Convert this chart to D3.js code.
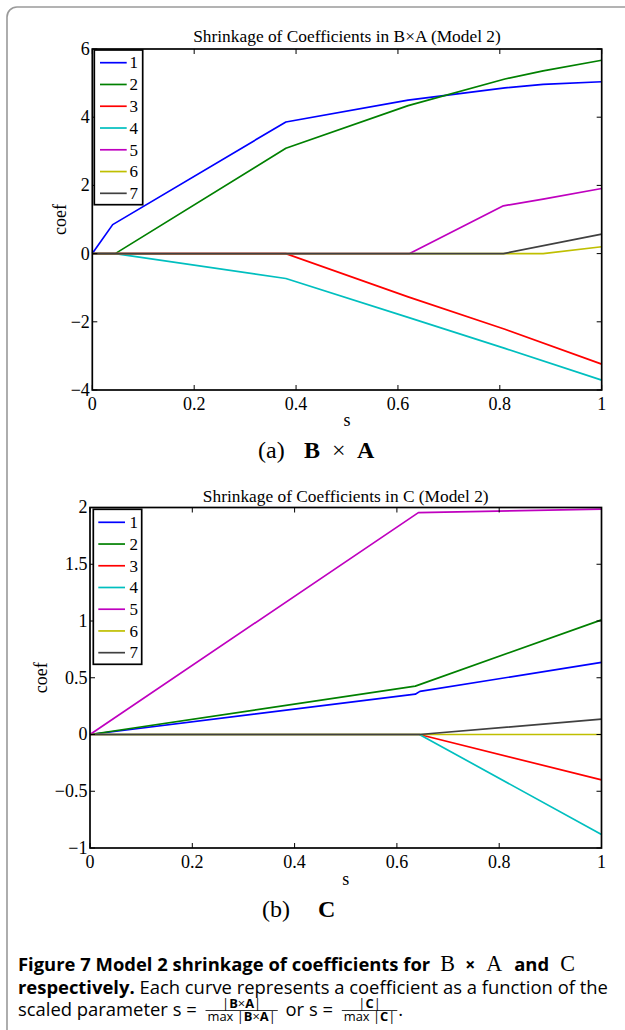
<!DOCTYPE html>
<html><head><meta charset="utf-8">
<script src="https://cdn.jsdelivr.net/npm/d3@7"></script>
<style>body{margin:0;background:#fff} svg{display:block} text{white-space:pre}</style>
</head><body><svg id="c" width="625" height="1030"></svg>
<script>
// ---------- data ----------
const seriesNames = ["1","2","3","4","5","6","7"];
const lineColors = ["#0000ff","#008000","#ff0000","#00bfbf","#bf00bf","#bfbf00","#404040"];
const xTicks = [0, 0.2, 0.4, 0.6, 0.8, 1];
const xTickLabels = ["0","0.2","0.4","0.6","0.8","1"];
const topYTicks = [6, 4, 2, 0, -2, -4];
const topYTickLabels = ["6","4","2","0","\u22122","\u22124"];
const botYTicks = [2, 1.5, 1, 0.5, 0, -0.5, -1];
const botYTickLabels = ["2","1.5","1","0.5","0","\u22120.5","\u22121"];

// Top chart (B x A): s positions and coefficient values per series
const topS1 = [0, 0.04, 0.38, 0.62, 0.81, 0.885, 1];
const topV1 = [0, 0.85, 3.86, 4.50, 4.86, 4.96, 5.04];
const topS2 = [0, 0.045, 0.38, 0.62, 0.81, 0.885, 1];
const topV2 = [0, 0, 3.09, 4.34, 5.12, 5.36, 5.67];
const topS3 = [0, 0.38, 0.62, 0.81, 1];
const topV3 = [0, 0, -1.27, -2.22, -3.24];
const topS4 = [0, 0.045, 0.38, 0.62, 0.81, 1];
const topV4 = [0, 0, -0.73, -1.87, -2.78, -3.71];
const topS5 = [0, 0.623, 0.807, 0.885, 1];
const topV5 = [0, 0, 1.40, 1.60, 1.91];
const topS6 = [0, 0.885, 1];
const topV6 = [0, 0, 0.20];
const topS7 = [0, 0.807, 1];
const topV7 = [0, 0, 0.57];

// Bottom chart (C)
const botS1 = [0, 0.636, 0.645, 1];
const botV1 = [0, 0.355, 0.38, 0.635];
const botS2 = [0, 0.636, 1];
const botV2 = [0, 0.426, 1.01];
const botS3 = [0, 0.644, 1];
const botV3 = [0, 0, -0.40];
const botS4 = [0, 0.644, 1];
const botV4 = [0, 0, -0.88];
const botS5 = [0, 0.642, 1];
const botV5 = [0, 1.955, 1.985];
const botS6 = [0, 1];
const botV6 = [0, 0];
const botS7 = [0, 0.644, 1];
const botV7 = [0, 0, 0.135];

const topSeries = [[topS1,topV1],[topS2,topV2],[topS3,topV3],[topS4,topV4],[topS5,topV5],[topS6,topV6],[topS7,topV7]];
const botSeries = [[botS1,botV1],[botS2,botV2],[botS3,botV3],[botS4,botV4],[botS5,botV5],[botS6,botV6],[botS7,botV7]];

// ---------- drawing ----------
const svg = d3.select("#c");
const SERIF = "'Liberation Serif','Times New Roman',serif";
const SANS = "'Open Sans','Noto Sans',sans-serif";
const TF = 18; // tick / label font size

svg.append("rect").attr("x",7).attr("y",7).attr("width",660).attr("height",1080).attr("rx",10)
  .attr("fill","none").attr("stroke","#9a9a9a").attr("stroke-width",1.6);

function chart(o){
  const g = svg.append("g");
  const x = d3.scaleLinear().domain([0,1]).range([o.left,o.right]);
  const y = d3.scaleLinear().domain(o.yDomain).range([o.bottom,o.top]);
  const tt = g.append("text").attr("x",(o.left+o.right)/2).attr("y",o.titleY)
    .attr("text-anchor","middle").style("font-family",SERIF).style("font-size","15px").text(o.title);
  const w = tt.node().getComputedTextLength();
  tt.style("font-size",(15*o.titleW/w)+"px");
  const line = d3.line().x(d=>x(d[0])).y(d=>y(d[1]));
  o.series.forEach((s,i)=>{
    const pts = s[0].map((v,j)=>[v,s[1][j]]);
    g.append("path").attr("d",line(pts)).attr("fill","none")
      .attr("stroke",lineColors[i]).attr("stroke-width",1.7).attr("stroke-linejoin","round");
  });
  g.append("rect").attr("x",o.left).attr("y",o.top).attr("width",o.right-o.left).attr("height",o.bottom-o.top)
    .attr("fill","none").attr("stroke","#000").attr("stroke-width",1.7);
  const tl = 5;
  g.selectAll(".xt").data(xTicks).join("path").attr("fill","none").attr("stroke","#000").attr("stroke-width",1)
    .attr("d",d=>`M${x(d)},${o.bottom}V${o.bottom-tl}M${x(d)},${o.top}V${o.top+tl}`);
  g.selectAll(".xl").data(xTicks).join("text").attr("x",d=>x(d)).attr("y",o.bottom+19.5)
    .attr("text-anchor","middle").style("font-family",SERIF).style("font-size",TF+"px")
    .text((d,i)=>xTickLabels[i]);
  g.selectAll(".yt").data(o.yTicks).join("path").attr("fill","none").attr("stroke","#000").attr("stroke-width",1)
    .attr("d",d=>`M${o.left},${y(d)}H${o.left+tl}M${o.right},${y(d)}H${o.right-tl}`);
  g.selectAll(".yl").data(o.yTicks).join("text").attr("x",o.left-2.5).attr("y",d=>y(d)).attr("dy","0.33em")
    .attr("text-anchor","end").style("font-family",SERIF).style("font-size",TF+"px")
    .text((d,i)=>o.yLabels[i]);
  g.append("text").attr("transform",`translate(${o.coefX},${(o.top+o.bottom)/2}) rotate(-90)`)
    .attr("text-anchor","middle").style("font-family",SERIF).style("font-size",TF+"px").text("coef");
  g.append("text").attr("x",(o.left+o.right)/2).attr("y",o.sY).attr("text-anchor","middle")
    .style("font-family",SERIF).style("font-size",TF+"px").text("s");
  const L = o.legend;
  g.append("rect").attr("x",L.x0).attr("y",L.y0).attr("width",L.x1-L.x0).attr("height",L.y1-L.y0)
    .attr("fill","#fff").attr("stroke","#000").attr("stroke-width",1.7);
  seriesNames.forEach((n,i)=>{
    const yy = L.first + i*L.step;
    g.append("line").attr("x1",L.lx0).attr("x2",L.lx1).attr("y1",yy).attr("y2",yy)
      .attr("stroke",lineColors[i]).attr("stroke-width",1.7);
    g.append("text").attr("x",L.tx).attr("y",yy).attr("dy","0.34em")
      .style("font-family",SERIF).style("font-size","17px").text(n);
  });
}

chart({left:92.3,right:601.7,top:49,bottom:390,yDomain:[-4,6],yTicks:topYTicks,yLabels:topYTickLabels,
  series:topSeries,title:"Shrinkage of Coefficients in B\u00d7A (Model 2)",titleY:42,titleW:308,
  coefX:66,sY:426,
  legend:{x0:94.3,y0:50,x1:142.7,y1:204.7,first:62.7,step:21.77,lx0:100,lx1:126.7,tx:129.5}});
chart({left:90,right:601.5,top:507.5,bottom:848,yDomain:[-1,2],yTicks:botYTicks,yLabels:botYTickLabels,
  series:botSeries,title:"Shrinkage of Coefficients in C (Model 2)",titleY:501.7,titleW:286,
  coefX:47,sY:885,
  legend:{x0:93.3,y0:509.3,x1:141.7,y1:664.3,first:522.3,step:21.73,lx0:98.3,lx1:125,tx:129.5}});

function put(x, y, t, f, s, w){
  return svg.append("text").attr("x",x).attr("y",y).style("font-family",f).style("font-size",s+"px")
    .style("font-weight",w||"normal").text(t);
}
function run(x, y, pieces){
  pieces.forEach(p=>{
    const t = put(x,y,p.t,p.f,p.s,p.w);
    x += t.node().getComputedTextLength();
  });
  return x;
}
// sub captions
put(258, 458, "(a)", SERIF, 24);
put(304, 458, "B", SERIF, 24, "bold");
put(332, 458, "\u00d7", SERIF, 24);
put(357, 458, "A", SERIF, 24, "bold");
put(262, 917, "(b)", SERIF, 24);
put(318, 917, "C", SERIF, 24, "bold");

// caption
const probe = svg.append("text").style("font-family",SANS).style("font-size","16px");
probe.append("tspan").style("font-weight","bold").text("respectively.");
probe.append("tspan").text(" Each curve represents a coefficient as a function of the");
const pw = probe.node().getComputedTextLength();
probe.remove();
const cs = 16*590/pw;

const l1 = put(18, 971, "Figure 7 Model 2 shrinkage of coefficients for", SANS, cs, "bold");
const e1 = 18 + l1.node().getComputedTextLength();
put(e1+10, 971, "B", SERIF, cs*1.2);
put(e1+35, 971, "\u00d7", SANS, cs*0.95, "bold");
put(e1+56, 971, "A", SERIF, cs*1.2);
put(e1+84, 971, "and", SANS, cs, "bold");
put(e1+130, 971, "C", SERIF, cs*1.2);

run(18, 994, [
  {t:"respectively.",f:SANS,s:cs,w:"bold"},
  {t:" Each curve represents a coefficient as a function of the",f:SANS,s:cs}]);

const base3 = 1016;
let cx = run(18, base3, [{t:"scaled parameter s = ",f:SANS,s:cs}]);
function frac(x, num, den){
  const fs = cs*0.7;
  const gN = svg.append("g"), gD = svg.append("g");
  function build(g, parts){ let xx=0; parts.forEach(p=>{ const t=g.append("text").attr("x",xx).attr("y",0)
      .style("font-family",SANS).style("font-size",fs+"px").style("font-weight",p.w||"normal").text(p.t);
      xx+=t.node().getComputedTextLength();}); return xx; }
  const wN = build(gN, num), wD = build(gD, den);
  const W = Math.max(wN,wD)+4;
  const barY = base3 - 5.5;
  gN.attr("transform",`translate(${x+(W-wN)/2},${barY-2.5})`);
  gD.attr("transform",`translate(${x+(W-wD)/2},${barY+10.5})`);
  svg.append("line").attr("x1",x).attr("x2",x+W).attr("y1",barY).attr("y2",barY).attr("stroke","#000").attr("stroke-width",0.8);
  return x+W;
}
cx = frac(cx+4, [{t:"|"},{t:"B",w:"bold"},{t:"\u00d7"},{t:"A",w:"bold"},{t:"|"}],
                 [{t:"max |"},{t:"B",w:"bold"},{t:"\u00d7"},{t:"A",w:"bold"},{t:"|"}]);
cx = run(cx+3, base3, [{t:" or s = ",f:SANS,s:cs}]);
cx = frac(cx+4, [{t:"|"},{t:"C",w:"bold"},{t:"|"}], [{t:"max |"},{t:"C",w:"bold"},{t:"|"}]);
run(cx+1, base3, [{t:".",f:SANS,s:cs}]);
</script></body></html>
